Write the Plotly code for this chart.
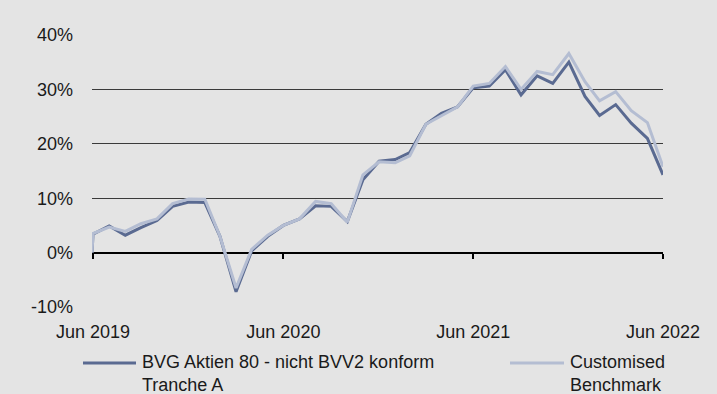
import plotly.graph_objects as go

# Month-end observation dates (first entry is the inception value)
dates = ["2019-06-28"] + [
    f"{y}-{m:02d}-{[31,28,31,30,31,30,31,31,30,31,30,31][m-1] if not (m == 2 and y % 4 == 0) else 29}"
    for y, m in [(2019 + (5 + k) // 12, (5 + k) % 12 + 1) for k in range(37)]
]

# Cumulative performance in percent
fund = [0.0, 3.4, 4.9, 3.2, 4.6, 5.9, 8.5, 9.3, 9.2, 3.0, -7.2,
        0.3, 3.0, 5.0, 6.2, 8.6, 8.5, 5.7, 13.4, 16.8, 17.1,
        18.4, 23.6, 25.6, 26.8, 30.3, 30.6, 33.6, 29.0, 32.5, 31.1,
        35.0, 28.7, 25.2, 27.2, 23.8, 21.0, 14.3]
bench = [0.0, 3.5, 4.7, 3.9, 5.3, 6.2, 9.0, 9.85, 9.8, 3.0, -6.5,
         0.6, 3.2, 5.0, 6.2, 9.4, 9.0, 5.6, 14.3, 16.7, 16.5,
         17.8, 23.6, 25.2, 26.8, 30.6, 31.1, 34.2, 30.0, 33.3, 32.7,
         36.6, 31.4, 27.9, 29.6, 26.1, 23.9, 15.8]

tick_dates = ["2019-06-30", "2020-06-30", "2021-06-30", "2022-06-30"]
tick_text = ["Jun 2019", "Jun 2020", "Jun 2021", "Jun 2022"]
y_ticks = [-10, 0, 10, 20, 30, 40]

names = ["BVG Aktien 80 - nicht BVV2 konform<br>Tranche A",
         "Customised<br>Benchmark"]
colors = ["#5a6a91", "#b4bdd2"]

bg = "#e4e4e4"
font = "Liberation Sans, Arial, sans-serif"
text_col = "#1a1a1a"

W, H = 717, 394
L, R, T, B = 92, 54, 35, 87
pw, ph = W - L - R, H - T - B


def px_x(px):
    return (px - L) / pw


def px_y(py):
    return (H - B - py) / ph


fig = go.Figure()
for vals, name, col in zip([fund, bench], names, colors):
    fig.add_trace(go.Scatter(
        x=dates, y=vals, name=name, mode="lines",
        line=dict(color=col, width=3), hoverinfo="skip", showlegend=False,
    ))

# Legend below the plot: a line sample followed by a two-line label
legend_items = [(83, 136, 140), (510, 564, 568)]
for (x0, x1, xt), name, col in zip(legend_items, names, colors):
    fig.add_shape(type="line", xref="paper", yref="paper",
                  x0=px_x(x0), x1=px_x(x1), y0=px_y(363), y1=px_y(363),
                  line=dict(color=col, width=3))
    fig.add_annotation(xref="paper", yref="paper", x=px_x(xt), y=px_y(350),
                       xanchor="left", yanchor="top", align="left",
                       text=name, showarrow=False,
                       font=dict(family=font, size=18, color=text_col))

fig.update_layout(
    width=W, height=H,
    margin=dict(l=L, r=R, t=T, b=B, autoexpand=False),
    paper_bgcolor=bg, plot_bgcolor=bg,
    font=dict(family=font, size=18, color=text_col),
    showlegend=False,
    xaxis=dict(
        type="date", range=[dates[0], dates[-1]],
        tickvals=tick_dates, ticktext=tick_text,
        anchor="free", position=0.2, automargin=False,
        ticks="outside", ticklen=5, tickwidth=2, tickcolor="#000000",
        ticklabelstandoff=58,
        showgrid=False, showline=False, zeroline=False,
    ),
    yaxis=dict(
        range=[-10, 40], tickvals=y_ticks, automargin=False,
        ticktext=[f"{v}%" for v in y_ticks],
        showgrid=True, gridcolor="#3a3a3a", gridwidth=1,
        zeroline=True, zerolinecolor="#000000", zerolinewidth=2,
        showline=False, ticks="", ticklabelstandoff=18,
    ),
)

fig.write_html("out.html")
